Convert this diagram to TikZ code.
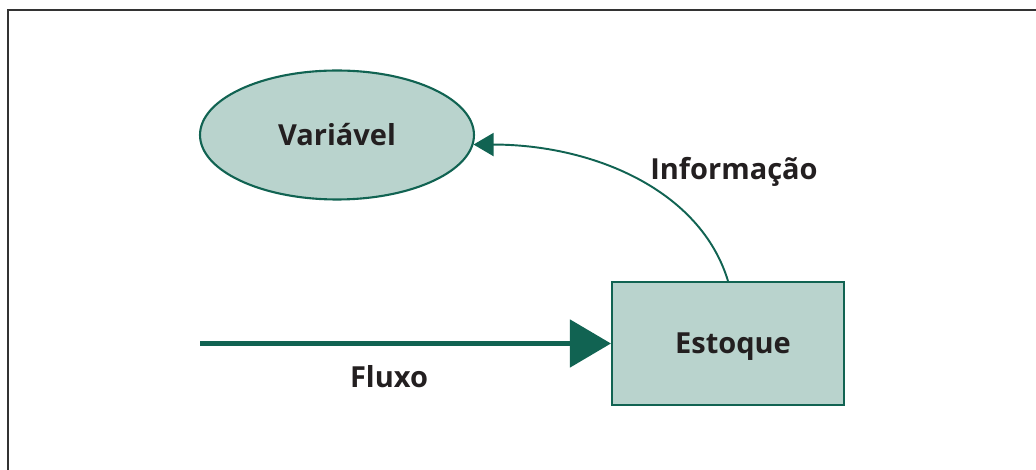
\documentclass[tikz,border=0pt]{standalone}
\usepackage{fontspec}
\setmainfont{Open Sans}
\usetikzlibrary{arrows.meta,shapes.geometric}

\definecolor{boxfill}{HTML}{B9D3CD}
\definecolor{boxline}{HTML}{116352}
\definecolor{textdark}{HTML}{231F20}

\begin{document}
\begin{tikzpicture}[x=0.02cm, y=0.02cm,
    labeltext/.style={font=\fontsize{16.5}{20}\selectfont\bfseries, text=textdark},
    stockbox/.style={draw=boxline, line width=1.2pt, fill=boxfill,
      minimum width=4.64cm, minimum height=2.46cm, inner sep=0pt},
    varellipse/.style={ellipse, draw=boxline, line width=1.2pt, fill=boxfill, labeltext,
      minimum width=5.48cm, minimum height=2.58cm, inner sep=0pt}]

  \useasboundingbox (0,0) rectangle (1036,470);

  % frame, top and left side only
  \draw[line width=0.8pt, black!80] (1036,460) -- (8,460) -- (8,0);

  \node[varellipse] (variavel) at (337,335) {Variável};
  \node[stockbox] (estoque) at (728,126.5) {};
  \node[labeltext] (estoquelbl) at ([xshift=0.1cm, yshift=-0.06cm]estoque.center) {Estoque};

  \coordinate (fluxo) at (200,126.5);

  % flow into the stock
  \draw[line width=2.8pt, boxline, -{Triangle[length=0.82cm, width=0.94cm]}]
    (fluxo) -- (estoque.west);
  \node[labeltext] (fluxolbl) at (389,93) {Fluxo};

  % information link back to the variable
  \draw[line width=1.1pt, boxline, -{Triangle[length=0.4cm, width=0.46cm]}]
    (estoque.north) .. controls +(-28,92) and +(118,0) .. (variavel.-4);
  \node[labeltext] (infolbl) at (734,298) {Informação};

\end{tikzpicture}
\end{document}
